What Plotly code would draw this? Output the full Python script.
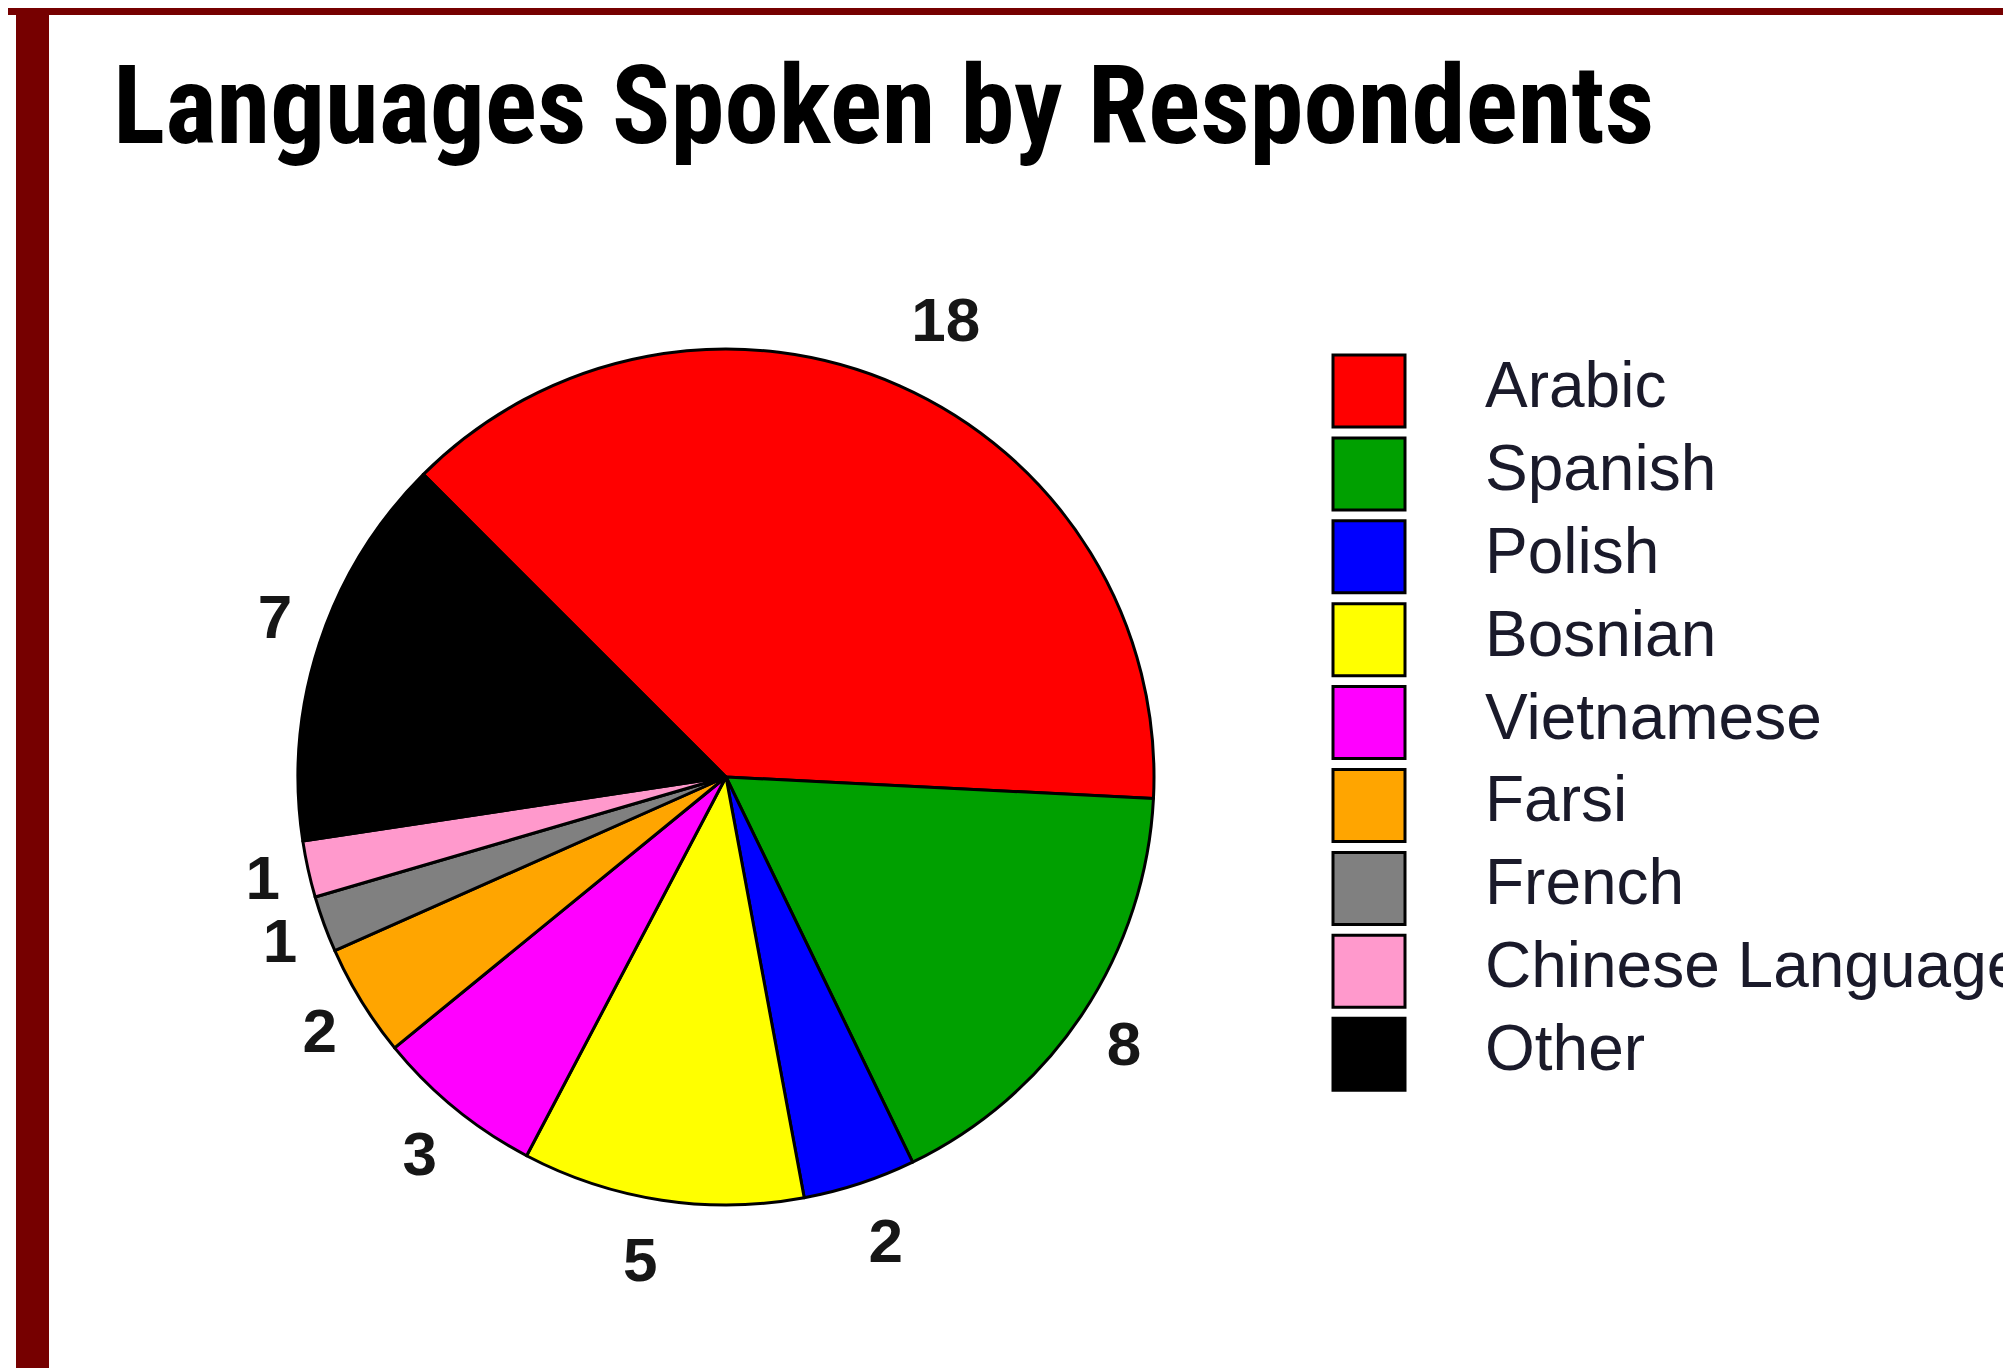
import math
import plotly.graph_objects as go

W, H = 2011, 1368

languages = ["Arabic", "Spanish", "Polish", "Bosnian", "Vietnamese",
             "Farsi", "French", "Chinese Language", "Other"]
counts = [18, 8, 2, 5, 3, 2, 1, 1, 7]
colors = ["#FF0000", "#00A000", "#0000FF", "#FFFF00", "#FF00FF",
          "#FFA500", "#808080", "#FF99CC", "#000000"]

title_text = "Languages Spoken by Respondents"
border_color = "#760000"

fig = go.Figure()

cx, cy, rad = 718, 769, 428
start_deg = 135.0           # math angle of first slice edge
pie_dom = dict(x=[(cx - rad) / W, (cx + rad) / W],
               y=[(H - cy - rad) / H, (H - cy + rad) / H])
lab_scale = 1.25
lrad = rad * lab_scale
lab_dom_x = [(cx - lrad) / W, (cx + lrad) / W]
lab_dom_y = [(H - cy - lrad) / H, (H - cy + lrad) / H]
kx, ky = 0.97, 1.05         # label spread (horizontal / vertical)

# Pie chart
fig.add_trace(go.Pie(
    labels=languages,
    values=counts,
    sort=False,
    direction="clockwise",
    rotation=-(start_deg - 90),
    marker=dict(colors=colors, line=dict(color="#000000", width=3)),
    textinfo="none",
    showlegend=False,
    hoverinfo="label+value",
    domain=pie_dom,
))

# Value labels at 1.1 radius on each slice's mid-angle
total = sum(counts)
lab_x, lab_y, positions = [], [], []
acc = 0
for v in counts:
    ang = math.radians(start_deg - (acc + v / 2) / total * 360.0)
    acc += v
    lab_x.append(1.1 * math.cos(ang))
    lab_y.append(1.1 * math.sin(ang))
    positions.append("middle left" if math.cos(ang) < 0 else "middle right")

fig.add_trace(go.Scatter(
    x=lab_x, y=lab_y,
    mode="text",
    text=[str(v) for v in counts],
    textposition=positions,
    textfont=dict(family="Liberation Sans, Arial, sans-serif", size=62,
                  color="#161616", weight="bold"),
    cliponaxis=False,
    showlegend=False,
    hoverinfo="skip",
    xaxis="x2", yaxis="y2",
))

# Custom legend: swatches
fig.add_trace(go.Scatter(
    x=[0] * len(languages),
    y=languages,
    mode="markers",
    marker=dict(symbol="square", size=72, color=colors,
                line=dict(color="#000000", width=3)),
    cliponaxis=False,
    showlegend=False,
    hoverinfo="skip",
    xaxis="x", yaxis="y",
))
# Custom legend: labels
fig.add_trace(go.Scatter(
    x=[1] * len(languages),
    y=languages,
    mode="text",
    text=languages,
    textposition="middle right",
    textfont=dict(family="Liberation Sans, Arial, sans-serif", size=64, color="#1a1a2a"),
    cliponaxis=False,
    showlegend=False,
    hoverinfo="skip",
    xaxis="x", yaxis="y",
))

row_px = 82.9
first_row = 383
top_px = first_row - row_px / 2
bot_px = first_row + row_px * 8 + row_px / 2
x_dom0 = 0.6
x_px0 = x_dom0 * W
unit = 116.0
r0 = -(1361 - x_px0) / unit
r1 = r0 + (W - x_px0) / unit

fig.update_layout(
    width=W, height=H,
    margin=dict(l=0, r=0, t=0, b=0),
    paper_bgcolor="#FFFFFF",
    plot_bgcolor="rgba(0,0,0,0)",
    title=dict(
        text="<b>" + title_text + "</b>",
        font=dict(family="Roboto Condensed, Liberation Sans, Arial, sans-serif",
                  size=109, color="#000000"),
        xref="paper", yref="paper",
        x=105 / W, xanchor="left",
        y=1 - 97 / H, yanchor="middle",
    ),
    xaxis=dict(domain=[x_dom0, 1.0], range=[r0, r1], visible=False, fixedrange=True),
    yaxis=dict(domain=[1 - bot_px / H, 1 - top_px / H], type="category",
               categoryorder="array", categoryarray=languages,
               range=[len(languages) - 0.5, -0.5], visible=False, fixedrange=True),
    xaxis2=dict(domain=lab_dom_x, range=[-lab_scale / kx, lab_scale / kx],
                visible=False, fixedrange=True, anchor="y2"),
    yaxis2=dict(domain=lab_dom_y, range=[-lab_scale / ky, lab_scale / ky],
                visible=False, fixedrange=True, anchor="x2"),
    shapes=[
        dict(type="rect", xref="paper", yref="paper", x0=0, x1=1,
             y0=1 - 7 / H, y1=1, fillcolor=border_color, line=dict(width=0), layer="above"),
        dict(type="rect", xref="paper", yref="paper", x0=8 / W, x1=41 / W,
             y0=0, y1=1, fillcolor=border_color, line=dict(width=0), layer="above"),
    ],
)

fig.write_html("out.html")
